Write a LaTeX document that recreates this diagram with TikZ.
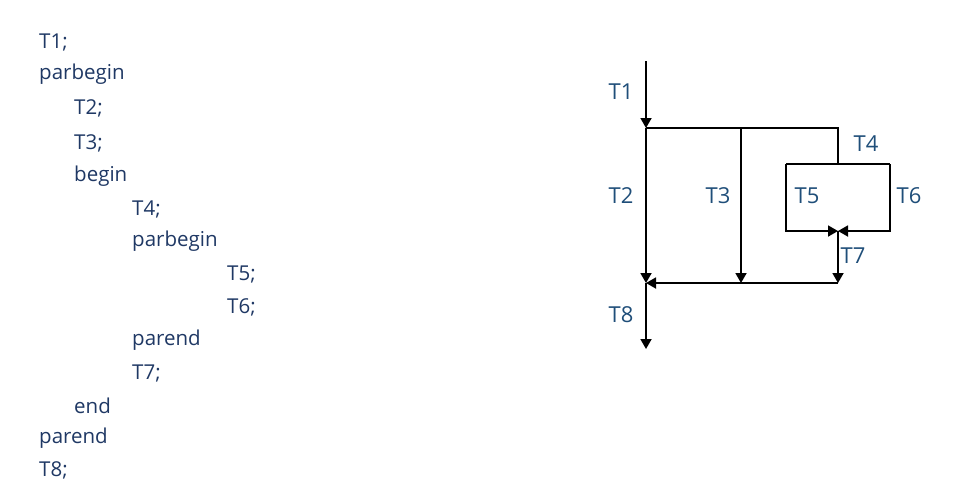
\documentclass[tikz,border=0pt]{standalone}
\usepackage{fontspec}
\setmainfont{Open Sans}
\usetikzlibrary{arrows.meta}
\definecolor{codeblue}{RGB}{31,56,100}
\definecolor{taskblue}{RGB}{31,78,121}
\tikzset{
  code/.style={anchor=west, text=codeblue, font=\fontsize{20.5}{24}\selectfont, inner sep=0pt},
  task/.style={text=taskblue, font=\fontsize{22}{26}\selectfont, inner sep=0pt},
  flow/.style={line width=1.8pt, -{Triangle[width=11pt,length=10pt]}},
  wire/.style={line width=1.8pt}
}
\begin{document}
\begin{tikzpicture}[x=1pt,y=-1pt]
  \useasboundingbox (0,0) rectangle (955,491);
  % program text
  \node[code] (l1) at (39,42) {T1;};
  \node[code] (l2) at (39,74) {parbegin};
  \node[code] (l3) at (74,108) {T2;};
  \node[code] (l4) at (74,143) {T3;};
  \node[code] (l5) at (74,176) {begin};
  \node[code] (l6) at (132,209) {T4;};
  \node[code] (l7) at (132,241) {parbegin};
  \node[code] (l8) at (227,274) {T5;};
  \node[code] (l9) at (227,307) {T6;};
  \node[code] (l10) at (132,340) {parend};
  \node[code] (l11) at (132,373) {T7;};
  \node[code] (l12) at (74,406) {end};
  \node[code] (l13) at (39,438) {parend};
  \node[code] (l14) at (39,470) {T8;};
  % graph points
  \coordinate (start) at (646,61);
  \coordinate (fork) at (646,128);
  \coordinate (forkm) at (741,128);
  \coordinate (forkr) at (838,128);
  \coordinate (boxtop) at (838,164);
  \coordinate (boxtl) at (786,164);
  \coordinate (boxtr) at (890,164);
  \coordinate (boxbl) at (786,231);
  \coordinate (boxbr) at (890,231);
  \coordinate (merge) at (838,231);
  \coordinate (join) at (646,283);
  \coordinate (joinm) at (741,283);
  \coordinate (joinr) at (838,283);
  \coordinate (stop) at (646,349);
  % connectors
  \draw[flow] (start) -- (fork);
  \draw[flow] (fork) -- (join);
  \draw[wire] (fork) -- (forkr) -- (boxtop);
  \draw[flow] (forkm) -- (joinm);
  \draw[wire] (boxtl) -- (boxtr);
  \draw[flow] (boxtl) -- (boxbl) -- (merge);
  \draw[flow] (boxtr) -- (boxbr) -- (merge);
  \draw[flow] (merge) -- (joinr);
  \draw[flow] (joinr) -- (join);
  \draw[flow] (join) -- (stop);
  % task labels
  \node[task] (t1) at (621,92) {T1};
  \node[task] (t2) at (621,196) {T2};
  \node[task] (t3) at (718,196) {T3};
  \node[task] (t4) at (866,144) {T4};
  \node[task] (t5) at (807,196) {T5};
  \node[task] (t6) at (909,196) {T6};
  \node[task] (t7) at (853,256) {T7};
  \node[task] (t8) at (621,315) {T8};
\end{tikzpicture}
\end{document}
